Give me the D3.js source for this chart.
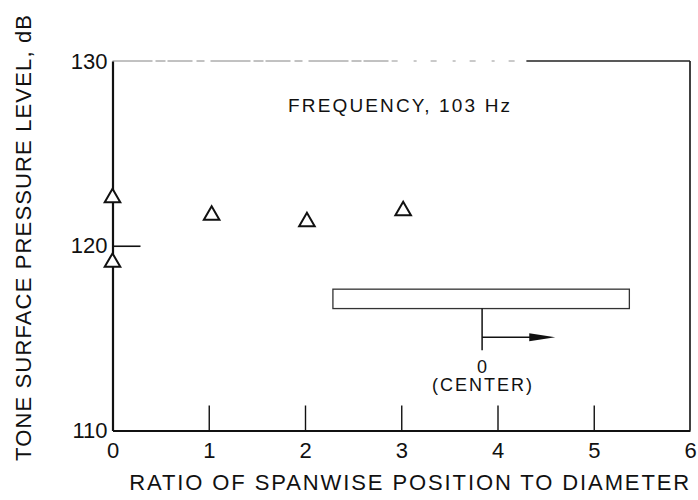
<!DOCTYPE html>
<html>
<head>
<meta charset="utf-8">
<script src="https://cdn.jsdelivr.net/npm/d3@7"></script>
<style>
  body { margin: 0; background: #fff; }
  svg { display: block; font-family: "Liberation Sans", Arial, sans-serif; }
</style>
</head>
<body>
<svg id="chart" width="698" height="500"></svg>
<script>
// data
var positions = [0, 0, 1.03, 2.02, 3.02];
var levels = [122.6, 119.1, 121.65, 121.3, 121.9];
var xTicks = [0, 1, 2, 3, 4, 5, 6];
var yTicks = [110, 120, 130];

var svg = d3.select('#chart');
var plotLeft = 112.5, plotRight = 690, plotTop = 61, plotBottom = 430.5;

var x = d3.scaleLinear().domain([0, 6]).range([plotLeft, plotRight]);
var y = d3.scaleLinear().domain([110, 130]).range([plotBottom, plotTop]);

// frame: right side and faded top edge
svg.append('line')
  .attr('x1', x(6)).attr('x2', x(6)).attr('y1', y(130)).attr('y2', y(110))
  .attr('stroke', '#111').attr('stroke-width', 1.6);
svg.append('line')
  .attr('x1', x(0)).attr('x2', x(2.9)).attr('y1', y(130)).attr('y2', y(130))
  .attr('stroke', '#777').attr('stroke-width', 0.9).attr('stroke-dasharray', '40,3,10,2,25,4,8,6');
svg.append('line')
  .attr('x1', x(2.9)).attr('x2', x(4.3)).attr('y1', y(130)).attr('y2', y(130))
  .attr('stroke', '#888').attr('stroke-width', 0.9).attr('stroke-dasharray', '6,16,3,14');
svg.append('line')
  .attr('x1', x(4.3)).attr('x2', x(6)).attr('y1', y(130)).attr('y2', y(130))
  .attr('stroke', '#222').attr('stroke-width', 1.3);

// x axis, ticks pointing up into the plot
var xAxis = svg.append('g')
  .attr('transform', 'translate(0,' + y(110) + ')')
  .call(d3.axisBottom(x).tickValues(xTicks).tickFormat(d3.format('d'))
    .tickSizeInner(-25).tickSizeOuter(0).tickPadding(12));
xAxis.select('.domain').attr('stroke', '#111').attr('stroke-width', 2);
xAxis.selectAll('.tick line').attr('stroke', '#111').attr('stroke-width', 1.4)
  .filter(function(d) { return d === 0 || d === 6; }).remove();
xAxis.selectAll('.tick text').attr('font-size', 22).attr('fill', '#111')
  .attr('font-family', '"Liberation Sans", Arial, sans-serif');

// y axis, only the 120 tick is drawn inward
var yAxis = svg.append('g')
  .attr('transform', 'translate(' + x(0) + ',0)')
  .call(d3.axisLeft(y).tickValues(yTicks).tickFormat(d3.format('d'))
    .tickSizeInner(-28).tickSizeOuter(0).tickPadding(5));
yAxis.select('.domain').attr('stroke', '#111').attr('stroke-width', 2.2);
yAxis.selectAll('.tick line').attr('stroke', '#111').attr('stroke-width', 1.6)
  .filter(function(d) { return d !== 120; }).remove();
yAxis.selectAll('.tick text').attr('font-size', 22).attr('fill', '#111')
  .attr('font-family', '"Liberation Sans", Arial, sans-serif');

// axis titles
svg.append('text')
  .attr('x', (x(0) + x(6)) / 2 + 8).attr('y', 490)
  .attr('text-anchor', 'middle').attr('font-size', 22).attr('fill', '#111')
  .attr('textLength', 560).attr('lengthAdjust', 'spacing')
  .text('RATIO OF SPANWISE POSITION TO DIAMETER');
svg.append('text')
  .attr('transform', 'translate(31,238) rotate(-90)')
  .attr('text-anchor', 'middle').attr('font-size', 22).attr('fill', '#111')
  .attr('textLength', 446).attr('lengthAdjust', 'spacing')
  .text('TONE SURFACE PRESSURE LEVEL, dB');

svg.append('text')
  .attr('x', 288).attr('y', 112)
  .attr('font-size', 19).attr('fill', '#111')
  .attr('textLength', 222).attr('lengthAdjust', 'spacing')
  .text('FREQUENCY, 103 Hz');

// inset sketch of the cylinder with the centre marked
svg.append('rect')
  .attr('x', x(2.29)).attr('y', y(117.65))
  .attr('width', x(5.37) - x(2.29)).attr('height', y(116.6) - y(117.65))
  .attr('fill', 'none').attr('stroke', '#333').attr('stroke-width', 1.3);
svg.append('line')
  .attr('x1', x(3.84)).attr('x2', x(3.84)).attr('y1', y(116.6)).attr('y2', y(114.35))
  .attr('stroke', '#111').attr('stroke-width', 1.5);
svg.append('line')
  .attr('x1', x(3.84)).attr('x2', x(4.35)).attr('y1', y(115.05)).attr('y2', y(115.05))
  .attr('stroke', '#111').attr('stroke-width', 1.5);
svg.append('path')
  .attr('d', 'M' + x(4.33) + ',' + (y(115.05) - 4) + 'L' + x(4.6) + ',' + y(115.05) +
    'L' + x(4.33) + ',' + (y(115.05) + 4) + 'Z')
  .attr('fill', '#111');
svg.append('text')
  .attr('x', x(3.84)).attr('y', y(113.12)).attr('text-anchor', 'middle')
  .attr('font-size', 18).attr('fill', '#111').text('0');
svg.append('text')
  .attr('x', x(3.84)).attr('y', y(112.14)).attr('text-anchor', 'middle')
  .attr('font-size', 18).attr('fill', '#111')
  .attr('textLength', 100).attr('lengthAdjust', 'spacing')
  .text('(CENTER)');

// data: open triangles
svg.selectAll('.pt')
  .data(positions)
  .enter()
  .append('path')
  .attr('class', 'pt')
  .attr('transform', function(d, i) { return 'translate(' + x(d) + ',' + y(levels[i]) + ')'; })
  .attr('d', d3.symbol().type(d3.symbolTriangle).size(105))
  .attr('fill', '#fff').attr('stroke', '#111').attr('stroke-width', 2);
</script>
</body>
</html>
